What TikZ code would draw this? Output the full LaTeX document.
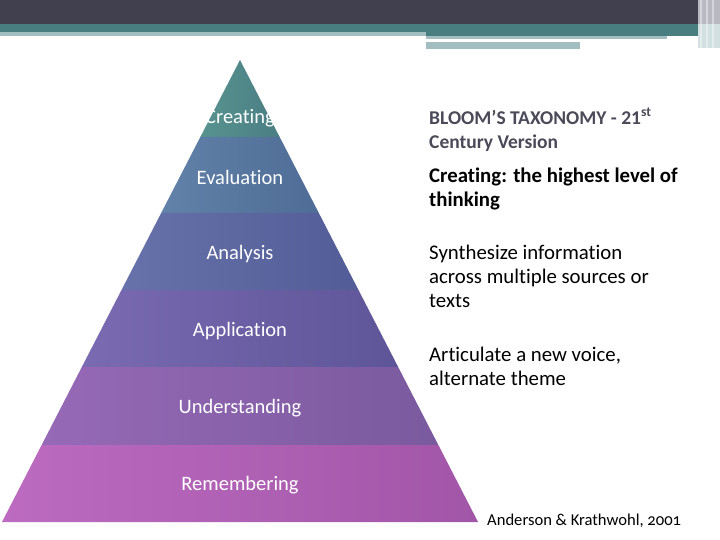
\documentclass[tikz,border=0pt]{standalone}
\usepackage{fontspec}
\setmainfont{Carlito}[Ligatures=NoCommon]
\usetikzlibrary{positioning}
\definecolor{barink}{HTML}{40404F}
\definecolor{barteal}{HTML}{487E80}
\definecolor{barpale}{HTML}{A3BEC1}
\definecolor{stripegray}{HTML}{B9B9C3}
\definecolor{stripepale}{HTML}{D2E0E2}
\definecolor{titlegray}{HTML}{4A4A58}
\definecolor{creaL}{HTML}{58938F}
\definecolor{creaR}{HTML}{4A7E84}
\definecolor{evalL}{HTML}{6282AA}
\definecolor{evalR}{HTML}{4E6C95}
\definecolor{analL}{HTML}{6772AA}
\definecolor{analR}{HTML}{525C96}
\definecolor{applL}{HTML}{7A6AB2}
\definecolor{applR}{HTML}{5E5598}
\definecolor{undeL}{HTML}{9669B6}
\definecolor{undeR}{HTML}{7A5A9E}
\definecolor{remeL}{HTML}{BC6BC0}
\definecolor{remeR}{HTML}{A256A8}
\tikzset{
  levellabel/.style={text=white, inner sep=0pt, font=\fontsize{20.5bp}{24bp}\selectfont},
  infotext/.style={anchor=north west, align=left, inner sep=0pt,
    font=\fontsize{20.8bp}{24bp}\selectfont},
  titletext/.style={infotext, text=titlegray,
    font=\fontsize{19.5bp}{24bp}\selectfont\bfseries},
  citetext/.style={anchor=west, inner sep=0pt,
    font=\fontsize{16.6bp}{18bp}\selectfont\addfontfeatures{Numbers=OldStyle}},
}

\begin{document}
\begin{tikzpicture}[x=1bp, y=-1bp]
  \useasboundingbox (0,0) rectangle (720,540);
  % header bar
  \fill[barink] (0,0) rectangle (720,24);
  \fill[barteal] (0,24) rectangle (720,32);
  \fill[barpale] (0,32) rectangle (426,36);
  \fill[barteal] (426,32) rectangle (698,36);
  \fill[barpale] (426,36) rectangle (667,39);
  \fill[barpale] (426,42) rectangle (580,49);
  \fill[stripegray] (698,0) rectangle (720,24);
  \fill[stripepale] (698,24) rectangle (720,48);
  \foreach \sx in {700,706,712}
    \fill[white, opacity=0.4] (\sx,0) rectangle (\sx+1.5,48);

  % pyramid bands
  \foreach \ya/\yb/\cl/\cr in {60/137/creaL/creaR,137/213/evalL/evalR,213/290/analL/analR,
                               290/367/applL/applR,367/445/undeL/undeR,445/522/remeL/remeR}{
    \pgfmathsetmacro\wa{(\ya-60)*0.5152}
    \pgfmathsetmacro\wb{(\yb-60)*0.5152}
    \shade[left color=\cl, right color=\cr]
      (240-\wa,\ya) -- (240+\wa,\ya) -- (240+\wb,\yb) -- (240-\wb,\yb) -- cycle;
  }

  % level labels
  \node[levellabel] (creating) at (240,118) {Creating};
  \node[levellabel] (evaluation) at (240,177) {Evaluation};
  \node[levellabel] (analysis) at (240,254) {Analysis};
  \node[levellabel] (application) at (240,331) {Application};
  \node[levellabel] (understanding) at (240,408) {Understanding};
  \node[levellabel] (remembering) at (240,485) {Remembering};

  % right column
  \node[titletext] (title) at (429,108) {BLOOM’S TAXONOMY - 21\textsuperscript{st}\\Century Version};
  \node[infotext, font=\fontsize{20.8bp}{24bp}\selectfont\bfseries] (highest) at (429,168)
    {Creating: the highest level of\\thinking};
  \node[infotext] (synth) at (429,245) {Synthesize information\\across multiple sources or\\texts};
  \node[infotext] (voice) at (429,347) {Articulate a new voice,\\alternate theme};
  \node[citetext] (cite) at (487,521) {Anderson \& Krathwohl, 2001};
\end{tikzpicture}
\end{document}
